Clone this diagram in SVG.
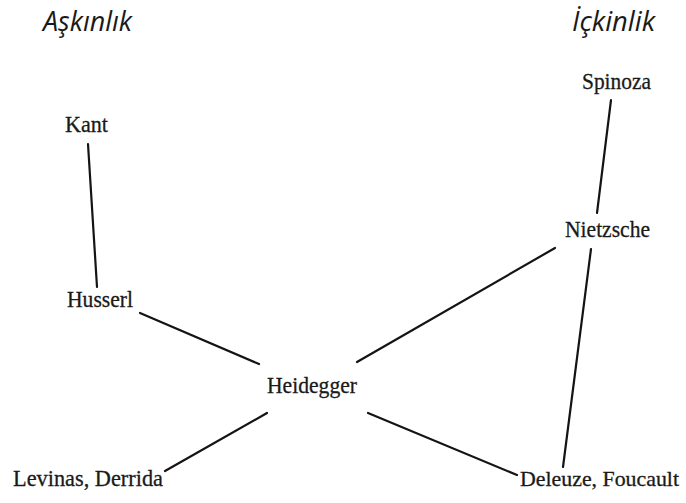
<svg xmlns="http://www.w3.org/2000/svg" width="686" height="503" viewBox="0 0 686 503">
<style>
.title{font-family:"Open Sans","Liberation Sans",sans-serif;font-style:italic;font-size:28px;fill:#1a1a1a}
.name{font-family:"Liberation Serif","DejaVu Serif",serif;font-size:24px;fill:#1a1a1a;stroke:#1a1a1a;stroke-width:0.3}
.small{font-size:21.5px}
.edge{stroke:#141414;stroke-width:2.2;stroke-linecap:round;fill:none}
</style>
<rect width="686" height="503" fill="#ffffff"/>
<g id="headings">
<text class="title" x="43" y="31" textLength="89" lengthAdjust="spacingAndGlyphs">Aşkınlık</text>
<text class="title" x="572" y="31" textLength="83" lengthAdjust="spacingAndGlyphs">İçkinlik</text>
</g>
<g id="connectors">
<line class="edge" x1="88" y1="144" x2="97" y2="287"/>
<line class="edge" x1="611" y1="100" x2="597" y2="213"/>
<line class="edge" x1="555" y1="248" x2="357" y2="362"/>
<line class="edge" x1="591" y1="249" x2="563" y2="467"/>
<line class="edge" x1="140" y1="313" x2="259" y2="364"/>
<line class="edge" x1="267" y1="413" x2="165" y2="471"/>
<line class="edge" x1="368" y1="413" x2="517" y2="475"/>
</g>
<g id="node-kant"><text class="name" x="65" y="132" textLength="43" lengthAdjust="spacingAndGlyphs">Kant</text></g>
<g id="node-spinoza"><text class="name" x="582" y="89" textLength="69" lengthAdjust="spacingAndGlyphs">Spinoza</text></g>
<g id="node-nietzsche"><text class="name" x="565" y="237" textLength="85" lengthAdjust="spacingAndGlyphs">Nietzsche</text></g>
<g id="node-husserl"><text class="name" x="67" y="307" textLength="66" lengthAdjust="spacingAndGlyphs">Husserl</text></g>
<g id="node-heidegger"><text class="name" x="267" y="393" textLength="90" lengthAdjust="spacingAndGlyphs">Heidegger</text></g>
<g id="node-levinas-derrida"><text class="name" x="13" y="486" textLength="150" lengthAdjust="spacingAndGlyphs">Levinas, Derrida</text></g>
<g id="node-deleuze-foucault"><text class="name small" x="520" y="486" textLength="159" lengthAdjust="spacingAndGlyphs">Deleuze, Foucault</text></g>
</svg>
